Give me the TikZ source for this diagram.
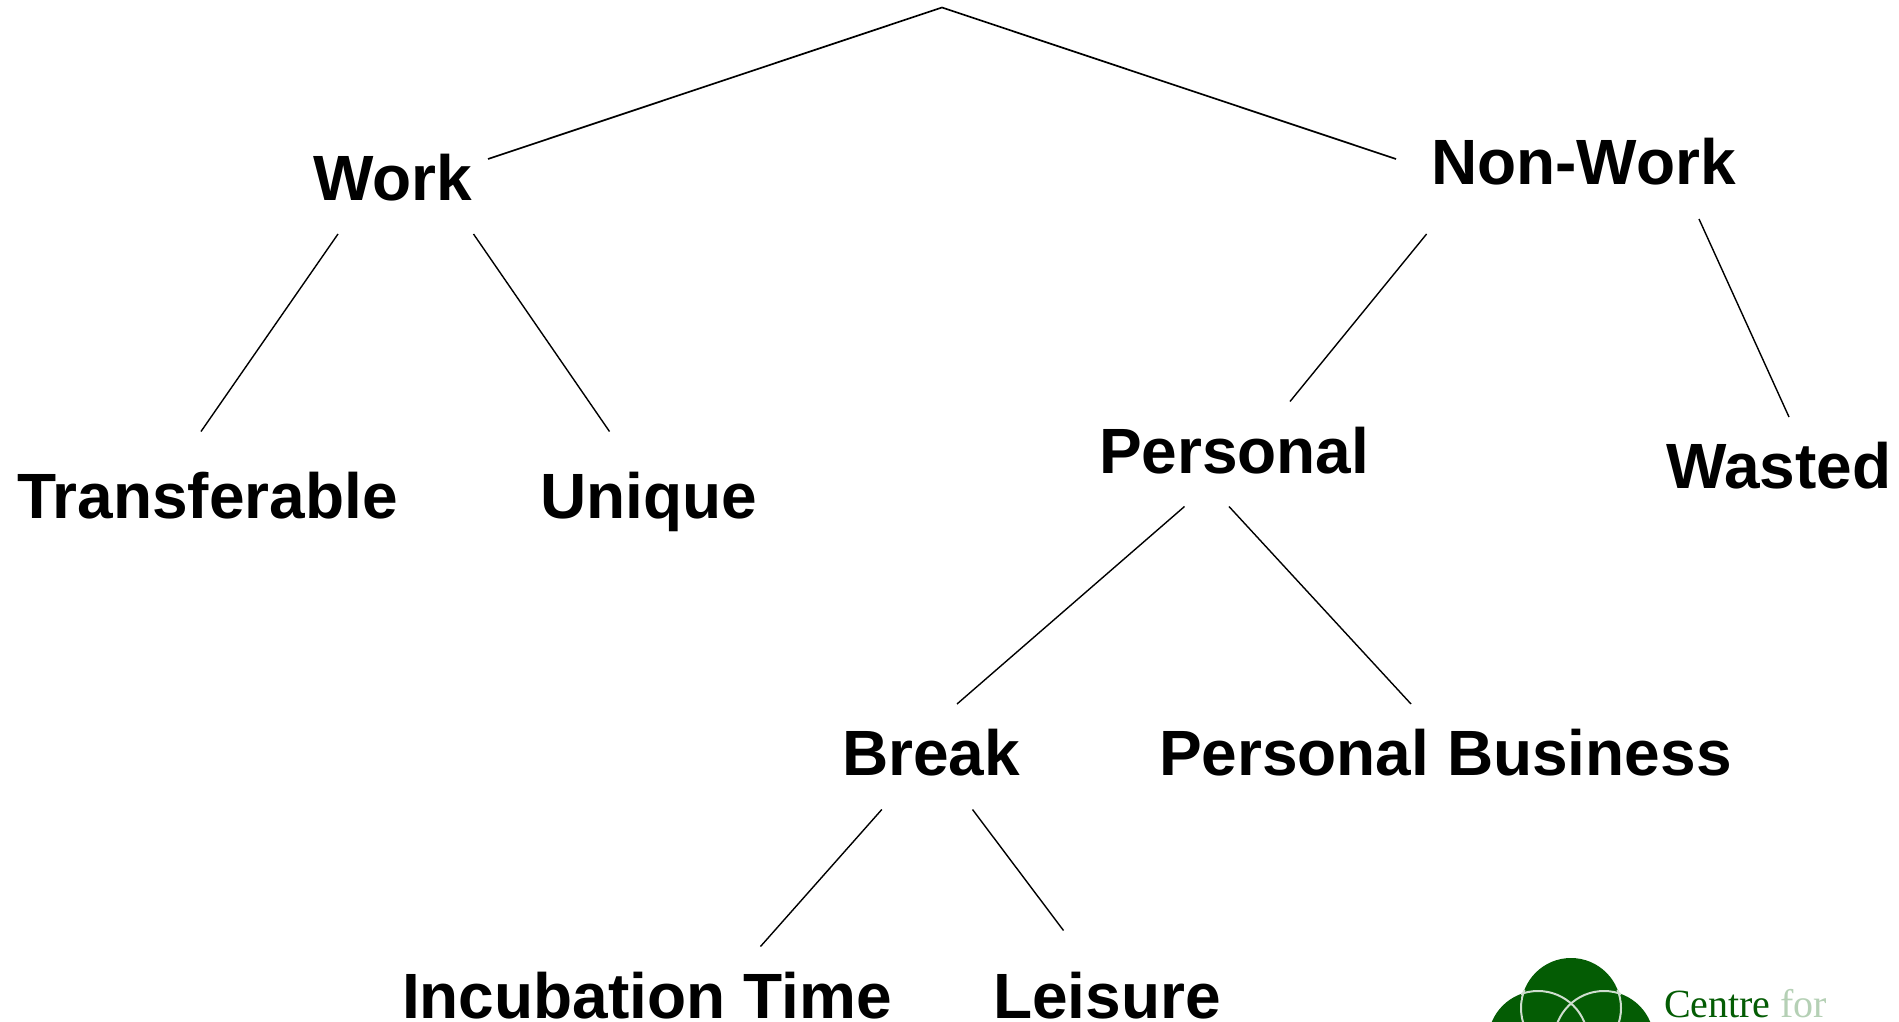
\documentclass[tikz,border=0pt]{standalone}
\usepackage{fontspec}
\setmainfont{Liberation Sans}
\newfontfamily\logofont{Liberation Serif}
\definecolor{logogreen}{HTML}{045C04}
\definecolor{logopale}{HTML}{B5D0B5}
\definecolor{logoring}{HTML}{CFDDCF}
\tikzset{
  lbl/.style={anchor=base west,inner sep=0pt,outer sep=0pt,font=\fontsize{64}{64}\selectfont\bfseries},
  logotxt/.style={anchor=base west,inner sep=0pt,outer sep=0pt,font=\logofont\fontsize{40}{40}\selectfont},
  thick link/.style={line width=1.7pt,black},
  thin link/.style={line width=1.4pt,black},
  ring/.style={draw=logoring,line width=2pt},
}
\begin{document}
\begin{tikzpicture}[x=1pt,y=-1pt]
\useasboundingbox (0,0) rectangle (1899,1022);
% labels
\node[lbl] (work) at (313,200.5) {Work};
\node[lbl] (nonwork) at (1431,185) {Non-Work};
\node[lbl] (transferable) at (17,518.5) {Transferable};
\node[lbl] (unique) at (540,518.5) {Unique};
\node[lbl] (personal) at (1099,473) {Personal};
\node[lbl] (wasted) at (1666,488) {Wasted};
\node[lbl] (break) at (842,775) {Break};
\node[lbl] (business) at (1159,775) {Personal Business};
\node[lbl] (incubation) at (402,1018.5) {Incubation Time};
\node[lbl] (leisure) at (993,1018.5) {Leisure};
% connector ends
\coordinate (apex) at (942,7.5);
\coordinate (w1) at (488,159);
\coordinate (n1) at (1396,159);
\coordinate (w2) at (338,234);
\coordinate (t1) at (201,431.5);
\coordinate (w3) at (473.5,234);
\coordinate (u1) at (609.5,431.5);
\coordinate (n2) at (1426.6,234);
\coordinate (p1) at (1290,401.5);
\coordinate (n3) at (1699,219);
\coordinate (a1) at (1789,417);
\coordinate (p2) at (1184.5,506.5);
\coordinate (b1) at (957,704);
\coordinate (p3) at (1229,506.5);
\coordinate (pb) at (1411,704);
\coordinate (b2) at (881.8,809.5);
\coordinate (i1) at (760.5,946.5);
\coordinate (b3) at (972.5,809.5);
\coordinate (l1) at (1063.5,930.5);
\draw[thick link] (w1) -- (apex) -- (n1);
\draw[thin link] (w2) -- (t1);
\draw[thin link] (w3) -- (u1);
\draw[thin link] (n2) -- (p1);
\draw[thin link] (n3) -- (a1);
\draw[thin link] (p2) -- (b1);
\draw[thin link] (p3) -- (pb);
\draw[thin link] (b2) -- (i1);
\draw[thin link] (b3) -- (l1);
% logo
\begin{scope}
\clip (1480,950) rectangle (1899,1022);
\fill[logogreen] (1571,1008) circle (50);
\fill[logogreen] (1538,1041) circle (50);
\fill[logogreen] (1604,1041) circle (50);
\begin{scope}
\clip (1450,1000) rectangle (1700,1022) (1521,990) rectangle (1621,1000);
\draw[ring] (1571,1008) circle (50);
\end{scope}
\begin{scope}
\clip (1521,950) rectangle (1621,1022);
\draw[ring] (1538,1041) circle (50);
\draw[ring] (1604,1041) circle (50);
\end{scope}
\end{scope}
\node[logotxt,text=logogreen] (centre) at (1664,1017.3) {Centre};
\node[logotxt,text=logopale] (for) at (1780,1017.3) {for};
\end{tikzpicture}
\end{document}
